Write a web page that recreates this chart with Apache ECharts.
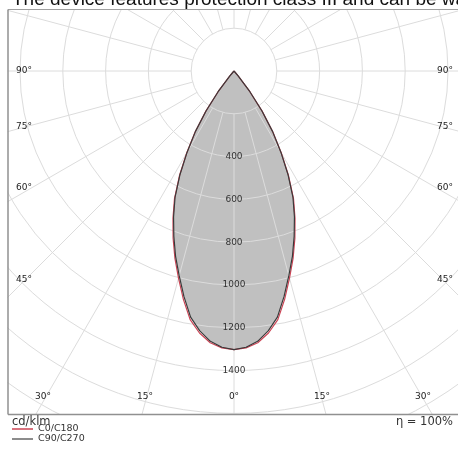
<!DOCTYPE html>
<html>
<head>
<meta charset="utf-8">
<script src="https://cdn.jsdelivr.net/npm/echarts@6/dist/echarts.min.js"></script>
<style>html,body{margin:0;padding:0;background:#fff;}#c{width:458px;height:454px;}</style>
</head>
<body>
<div id="c"></div>
<script>
// gamma angles (degrees from nadir) and luminous intensity in cd/klm
const gammaDeg = [0, 2.5, 5, 7.5, 10, 12.5, 15, 17.5, 20, 22.5, 25, 27.5, 30, 32.5, 35, 37.5, 40, 42.5, 45, 50, 55, 60, 65, 70, 75, 80, 85, 90];
const c0   = [1302, 1295, 1275, 1235, 1180, 1093, 1002, 918, 832, 745, 658, 552, 442, 338, 229, 122, 30, 0, 0, 0, 0, 0, 0, 0, 0, 0, 0, 0];
const c180 = [1302, 1295, 1275, 1235, 1180, 1093, 1002, 918, 832, 745, 658, 552, 442, 338, 229, 122, 30, 0, 0, 0, 0, 0, 0, 0, 0, 0, 0, 0];
const c90  = [1302, 1292, 1268, 1225, 1168, 1080, 990, 908, 822, 738, 652, 548, 438, 336, 228, 122, 30, 0, 0, 0, 0, 0, 0, 0, 0, 0, 0, 0];
const c270 = [1302, 1292, 1268, 1225, 1168, 1080, 990, 908, 822, 738, 652, 548, 438, 336, 228, 122, 30, 0, 0, 0, 0, 0, 0, 0, 0, 0, 0, 0];
const radiusTickLabels = [400, 600, 800, 1000, 1200, 1400];
const sideAngleLabels = ['90°', '75°', '60°', '45°'];
const bottomAngleLabels = ['30°', '15°', '0°', '15°', '30°'];
const seriesNames = ['C0/C180', 'C90/C270'];
const titleText = 'The device features protection class III and can be wall-mounted';
const unitText = 'cd/klm';
const etaText = 'η = 100%';

function loop(rightHalf, leftHalf) {
  const pts = [];
  for (let i = gammaDeg.length - 1; i >= 0; i--) pts.push([rightHalf[i], 360 - gammaDeg[i]]);
  for (let i = 1; i < gammaDeg.length; i++) pts.push([leftHalf[i], gammaDeg[i]]);
  return pts;
}

const CX = 234, CY = 71, PX_PER_CD = 0.214;
const RMAX = 2000;
const FONT = '"DejaVu Sans", sans-serif';

const chart = echarts.init(document.getElementById('c'), null, {renderer: 'canvas'});

const sideY = [71, 127, 188, 280];
const bottomX = [43, 145, 234, 322, 423];
const graphics = [
  {type: 'rect', shape: {x: 0, y: 0, width: 458, height: 9.5}, style: {fill: '#fff'}, z: 100},
  {type: 'rect', shape: {x: 0, y: 0, width: 7.5, height: 454}, style: {fill: '#fff'}, z: 100},
  {type: 'rect', shape: {x: 0, y: 414.5, width: 458, height: 40}, style: {fill: '#fff'}, z: 100},
  {type: 'line', shape: {x1: 8, y1: 9.5, x2: 458, y2: 9.5}, style: {stroke: '#a0a0a0', lineWidth: 1}, z: 101},
  {type: 'line', shape: {x1: 8, y1: 9.5, x2: 8, y2: 414.5}, style: {stroke: '#909090', lineWidth: 1.5}, z: 101},
  {type: 'line', shape: {x1: 8, y1: 414.5, x2: 458, y2: 414.5}, style: {stroke: '#909090', lineWidth: 1.5}, z: 101},
  {type: 'text', x: 12, y: 9, z: 102, style: {text: titleText, font: '19px "Liberation Sans", Arial, sans-serif', fill: '#111', verticalAlign: 'bottom', align: 'left'}},
  {type: 'text', x: 12, y: 422, z: 102, style: {text: unitText, font: '11.5px ' + FONT, fill: '#333', verticalAlign: 'middle', align: 'left'}},
  {type: 'text', x: 453, y: 422, z: 102, style: {text: etaText, font: '11.5px ' + FONT, fill: '#333', verticalAlign: 'middle', align: 'right'}}
];
sideAngleLabels.forEach((t, i) => {
  graphics.push({type: 'text', x: 24, y: sideY[i], z: 102, style: {text: t, font: '9px ' + FONT, fill: '#222', align: 'center', verticalAlign: 'middle'}});
  graphics.push({type: 'text', x: 445, y: sideY[i], z: 102, style: {text: t, font: '9px ' + FONT, fill: '#222', align: 'center', verticalAlign: 'middle'}});
});
bottomAngleLabels.forEach((t, i) => {
  graphics.push({type: 'text', x: bottomX[i], y: 397, z: 102, style: {text: t, font: '9px ' + FONT, fill: '#222', align: 'center', verticalAlign: 'middle'}});
});

const option = {
  animation: false,
  backgroundColor: '#fff',
  polar: [
    {center: [CX, CY], radius: [200 * PX_PER_CD, RMAX * PX_PER_CD]},
    {center: [CX, CY], radius: [0, RMAX * PX_PER_CD]}
  ],
  angleAxis: [
    {polarIndex: 0, type: 'value', min: 0, max: 360, interval: 15, startAngle: -90, clockwise: true, z: 5,
      axisLine: {show: false}, axisTick: {show: false}, axisLabel: {show: false},
      splitLine: {show: true, lineStyle: {color: '#dcdcdc', width: 1}}},
    {polarIndex: 1, type: 'value', min: 0, max: 360, startAngle: -90, clockwise: true, show: false}
  ],
  radiusAxis: [
    {polarIndex: 0, type: 'value', min: 200, max: RMAX, interval: 200, z: 5,
      axisLine: {show: false}, axisTick: {show: false},
      splitLine: {show: true, lineStyle: {color: '#dcdcdc', width: 1}},
      axisLabel: {show: true, margin: 0, rotate: 0, align: 'center', verticalAlign: 'middle', hideOverlap: false,
        color: '#333', fontSize: 9, fontFamily: FONT,
        formatter: v => radiusTickLabels.indexOf(v) >= 0 ? String(v) : ''}},
    {polarIndex: 1, type: 'value', min: 0, max: RMAX, show: false}
  ],
  legend: {
    z: 200, zlevel: 0,
    orient: 'vertical', left: 12, top: 424, itemGap: 0, itemWidth: 21, itemHeight: 1.5, icon: 'rect',
    data: seriesNames, padding: 0,
    textStyle: {fontSize: 9.5, fontFamily: FONT, color: '#333', lineHeight: 10}
  },
  series: [
    {name: 'fill', type: 'line', coordinateSystem: 'polar', polarIndex: 1, z: 1, silent: true,
      data: loop(c90, c270), showSymbol: false, symbol: 'none', lineStyle: {width: 0, opacity: 0},
      areaStyle: {color: '#c0c0c0', opacity: 1}},
    {name: seriesNames[0], type: 'line', coordinateSystem: 'polar', polarIndex: 1, z: 8,
      data: loop(c0, c180), showSymbol: false, symbol: 'none', color: '#cc4455',
      lineStyle: {color: '#cc4455', width: 1.2}},
    {name: seriesNames[1], type: 'line', coordinateSystem: 'polar', polarIndex: 1, z: 9,
      data: loop(c90, c270), showSymbol: false, symbol: 'none', color: '#666666',
      lineStyle: {color: '#3a3a3a', width: 1.2}}
  ],
  graphic: graphics
};
chart.setOption(option);
</script>
</body>
</html>
